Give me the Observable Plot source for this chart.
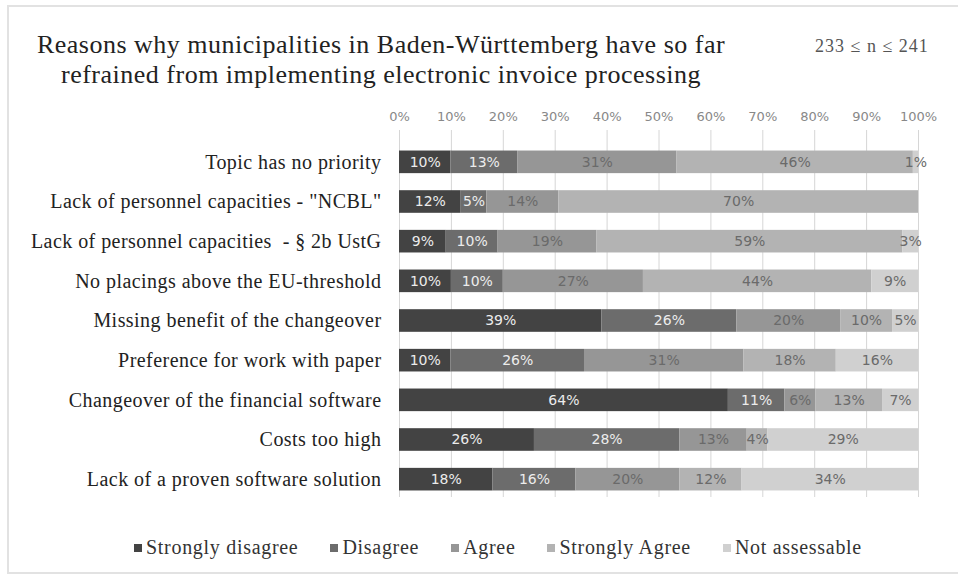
<!DOCTYPE html>
<html>
<head>
<meta charset="utf-8">
<script src="https://cdn.jsdelivr.net/npm/d3@7"></script>
<script src="https://cdn.jsdelivr.net/npm/@observablehq/plot@0.6"></script>
<style>
  html, body { margin: 0; padding: 0; background: #fff; }
  #wrap { position: relative; width: 958px; height: 579px; overflow: hidden; font-family: "Liberation Serif", serif; }
  #border { position: absolute; left: 7px; top: 5px; width: 980px; height: 569px; border: 2px solid #e2e2e2; box-sizing: border-box; }
  #title { position: absolute; left: 31px; width: 700px; top: 30px; text-align: center; font-size: 26px; letter-spacing: 0.5px; line-height: 30px; color: #222; }
  #nlabel { position: absolute; left: 815px; top: 36px; font-size: 18px; letter-spacing: 1px; color: #555; }
  #chart { position: absolute; left: 0; top: 95px; }
  #legend { position: absolute; left: 134px; top: 536px; display: flex; gap: 32px; font-size: 20px; letter-spacing: 0.7px; color: #333; }
  #legend .item { display: flex; align-items: center; }
  #legend .sw { width: 8px; height: 8px; margin-right: 4px; display: inline-block; }
  #chart svg .yax text { letter-spacing: 0.45px; }
</style>
</head>
<body>
<div id="wrap">
  <div id="border"></div>
  <div id="title">Reasons why municipalities in Baden-Württemberg have so far<br>refrained from implementing electronic invoice processing</div>
  <div id="nlabel">233 ≤ n ≤ 241</div>
  <div id="chart"></div>
  <div id="legend"></div>
</div>
<script>
const categories = ["Strongly disagree", "Disagree", "Agree", "Strongly Agree", "Not assessable"];
const reasons = [
  "Topic has no priority",
  "Lack of personnel capacities - \"NCBL\"",
  "Lack of personnel capacities  - § 2b UstG",
  "No placings above the EU-threshold",
  "Missing benefit of the changeover",
  "Preference for work with paper",
  "Changeover of the financial software",
  "Costs too high",
  "Lack of a proven software solution"
];
const stronglyDisagree = [10, 12, 9, 10, 39, 10, 64, 26, 18];
const disagree         = [13, 5, 10, 10, 26, 26, 11, 28, 16];
const agree            = [31, 14, 19, 27, 20, 31, 6, 13, 20];
const stronglyAgree    = [46, 70, 59, 44, 10, 18, 13, 4, 12];
const notAssessable    = [1, 0, 3, 9, 5, 16, 7, 29, 34];
const xTicks = [0, 0.1, 0.2, 0.3, 0.4, 0.5, 0.6, 0.7, 0.8, 0.9, 1];
const palette = ["#434343", "#6c6c6c", "#969696", "#b3b3b3", "#d0d0d0"];

const series = [stronglyDisagree, disagree, agree, stronglyAgree, notAssessable];
const table = reasons.flatMap((reason, i) =>
  series.map((vals, j) => ({reason, category: categories[j], value: vals[i]}))
).filter(d => d.value > 0);

const darkCats = new Set(categories.slice(0, 2));
const stackOpts = () => ({offset: "normalize", x: "value", y: "reason", z: "category"});

const chart = Plot.plot({
  width: 958,
  height: 407,
  marginLeft: 399,
  marginRight: 40,
  marginTop: 35,
  marginBottom: 5,
  x: {domain: [0, 1], axis: null},
  y: {domain: reasons, range: [47, 404], paddingInner: 0.43, paddingOuter: 0.215, round: false, axis: null},
  color: {domain: categories, range: palette},
  marks: [
    Plot.ruleX(xTicks, {stroke: "#d6d6d6", strokeWidth: 1}),
    Plot.barX(table, Plot.stackX({...stackOpts(), fill: "category"})),
    Plot.text(table, Plot.filter(d => darkCats.has(d.category), Plot.stackX({...stackOpts(), text: d => d.value + "%", fill: "#ececec", fontFamily: "DejaVu Sans", fontSize: 14}))),
    Plot.text(table, Plot.filter(d => !darkCats.has(d.category), Plot.stackX({...stackOpts(), text: d => d.value + "%", fill: "#6a6a6a", fontFamily: "DejaVu Sans", fontSize: 14}))),
    Plot.axisX(xTicks, {anchor: "top", label: null, tickSize: 0, tickPadding: 10, tickFormat: d3.format(".0%"), fontFamily: "DejaVu Sans", fontSize: 13, fill: "#888"}),
    Plot.axisY({label: null, tickSize: 0, tickPadding: 18, fontFamily: "Liberation Serif", fontSize: 20, fill: "#222", className: "yax"})
  ]
});
document.getElementById("chart").appendChild(chart);
chart.querySelectorAll("g[aria-label='y-axis tick label'] text").forEach(t => t.setAttribute("letter-spacing", "0.45"));

const legend = document.getElementById("legend");
categories.forEach((c, i) => {
  const item = document.createElement("div");
  item.className = "item";
  const sw = document.createElement("span");
  sw.className = "sw";
  sw.style.background = palette[i];
  item.appendChild(sw);
  item.appendChild(document.createTextNode(c));
  legend.appendChild(item);
});
</script>
</body>
</html>
